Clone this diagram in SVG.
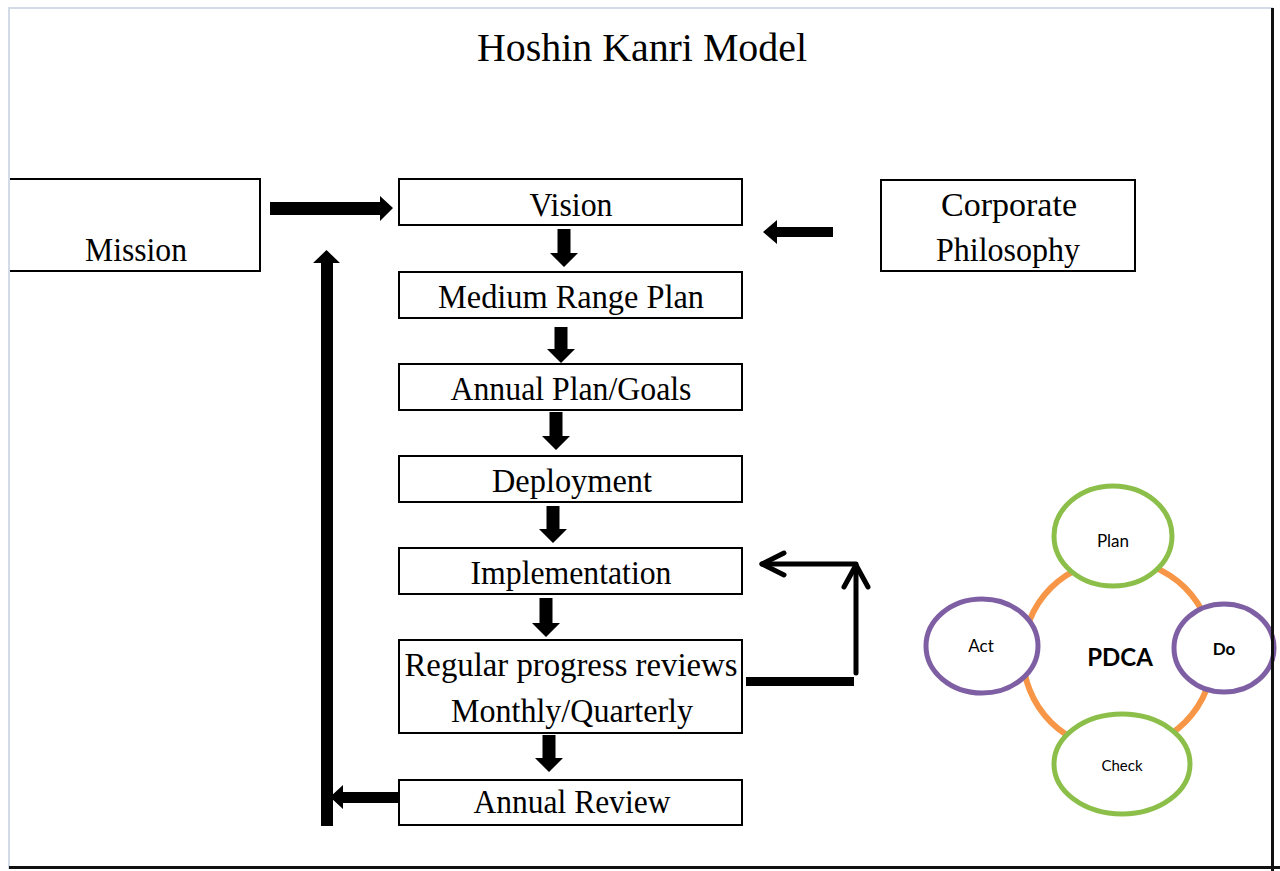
<svg xmlns="http://www.w3.org/2000/svg" width="1280" height="871" viewBox="0 0 1280 871">
<style>
.box{fill:#fff;stroke:#000;stroke-width:2}
.t{font-family:"Liberation Serif","Times New Roman",serif;font-size:33px;fill:#000;text-anchor:middle}
.ttl{font-family:"Liberation Serif","Times New Roman",serif;font-size:41px;fill:#000;text-anchor:middle}
.blk{fill:#000}
.ln{fill:none;stroke:#000;stroke-width:5;stroke-linecap:round;stroke-linejoin:round}
.ring{fill:none;stroke:#f79646;stroke-width:6}
.g{fill:#fff;stroke:#8cbf4a;stroke-width:5}
.p{fill:#fff;stroke:#7f5fa3;stroke-width:5}
.c{font-family:Lato,"Open Sans",sans-serif;fill:#000;text-anchor:middle}
</style>
<rect x="0" y="0" width="1280" height="871" fill="#fff"/>
<text class="ttl" x="642" y="61" textLength="330" lengthAdjust="spacingAndGlyphs">Hoshin Kanri Model</text>

<g id="mission">
<path class="box" d="M9 179 H260 V271 H9"/>
<text class="t" x="136" y="261" textLength="102" lengthAdjust="spacingAndGlyphs">Mission</text>
</g>
<g id="vision">
<rect class="box" x="399" y="179" width="343" height="46"/>
<text class="t" x="571" y="216" textLength="83" lengthAdjust="spacingAndGlyphs">Vision</text>
</g>
<g id="corporate">
<rect class="box" x="881" y="180" width="254" height="91"/>
<text class="t" x="1009" y="216" textLength="136" lengthAdjust="spacingAndGlyphs">Corporate</text>
<text class="t" x="1008" y="261" textLength="144" lengthAdjust="spacingAndGlyphs">Philosophy</text>
</g>
<g id="medium">
<rect class="box" x="399" y="272" width="343" height="46"/>
<text class="t" x="571" y="308" textLength="266" lengthAdjust="spacingAndGlyphs">Medium Range Plan</text>
</g>
<g id="annual-plan">
<rect class="box" x="399" y="364" width="343" height="46"/>
<text class="t" x="571" y="400" textLength="241" lengthAdjust="spacingAndGlyphs">Annual Plan/Goals</text>
</g>
<g id="deployment">
<rect class="box" x="399" y="456" width="343" height="46"/>
<text class="t" x="572" y="492" textLength="160" lengthAdjust="spacingAndGlyphs">Deployment</text>
</g>
<g id="implementation">
<rect class="box" x="399" y="548" width="343" height="46"/>
<text class="t" x="571" y="584" textLength="201" lengthAdjust="spacingAndGlyphs">Implementation</text>
</g>
<g id="reviews">
<rect class="box" x="399" y="640" width="343" height="93"/>
<text class="t" x="571" y="676" textLength="333" lengthAdjust="spacingAndGlyphs">Regular progress reviews</text>
<text class="t" x="572" y="722" textLength="242" lengthAdjust="spacingAndGlyphs">Monthly/Quarterly</text>
</g>
<g id="annual-review">
<rect class="box" x="399" y="780" width="343" height="45"/>
<text class="t" x="572" y="813" textLength="197" lengthAdjust="spacingAndGlyphs">Annual Review</text>
</g>

<g id="connectors">
<polygon class="blk" points="270,202 380,202 380,196 393,208 380,221 380,215 270,215"/>
<polygon class="blk" points="833,227 777,227 777,220 763,232 777,244 777,237 833,237"/>
<polygon class="blk" points="557.5,229 570.5,229 570.5,253 578,253 564,267 550,253 557.5,253"/>
<polygon class="blk" points="554.5,327 567.5,327 567.5,349 575,349 561,363 547,349 554.5,349"/>
<polygon class="blk" points="549.5,412 562.5,412 562.5,436 570,436 556,450 542,436 549.5,436"/>
<polygon class="blk" points="546.5,506 559.5,506 559.5,529 567,529 553,543 539,529 546.5,529"/>
<polygon class="blk" points="539.5,598 552.5,598 552.5,623 560,623 546,637 532,623 539.5,623"/>
<polygon class="blk" points="542.5,735 555.5,735 555.5,758 563,758 549,772 535,758 542.5,758"/>
<polygon class="blk" points="321,826 333,826 333,263 340,263 326.5,250 313,263 321,263"/>
<polygon class="blk" points="399,792 343,792 343,785 330,797 343,809 343,803 399,803"/>
<rect class="blk" x="746" y="677" width="108" height="9"/>
<path class="ln" d="M856 673 V564 H762"/>
<path class="ln" d="M844 587 L856 565 L868 587"/>
<path class="ln" d="M784 553 L762 564 L784 575"/>
</g>

<g id="pdca">
<circle class="ring" cx="1118" cy="655" r="95"/>
<text class="c" x="1120" y="666" font-size="24" font-weight="bold">PDCA</text>
</g>
<g id="plan">
<ellipse class="g" cx="1113" cy="536" rx="59" ry="50"/>
<text class="c" x="1113" y="547" font-size="17">Plan</text>
</g>
<g id="act">
<ellipse class="p" cx="982" cy="646" rx="56" ry="47"/>
<text class="c" x="981" y="652" font-size="17">Act</text>
</g>
<g id="do">
<ellipse class="p" cx="1224" cy="648" rx="50" ry="44"/>
<text class="c" x="1224" y="655" font-size="17" font-weight="bold">Do</text>
</g>
<g id="check">
<ellipse class="g" cx="1122" cy="764" rx="68" ry="50"/>
<text class="c" x="1122" y="771" font-size="15">Check</text>
</g>

<g id="frame">
<rect x="9" y="7" width="1264" height="2" fill="#d3dbe8"/>
<rect x="8" y="7" width="2" height="862" fill="#d3dbe8"/>
<rect x="1271" y="8" width="3" height="863" fill="#111"/>
<rect x="9" y="866" width="1271" height="3" fill="#111"/>
</g>
</svg>
